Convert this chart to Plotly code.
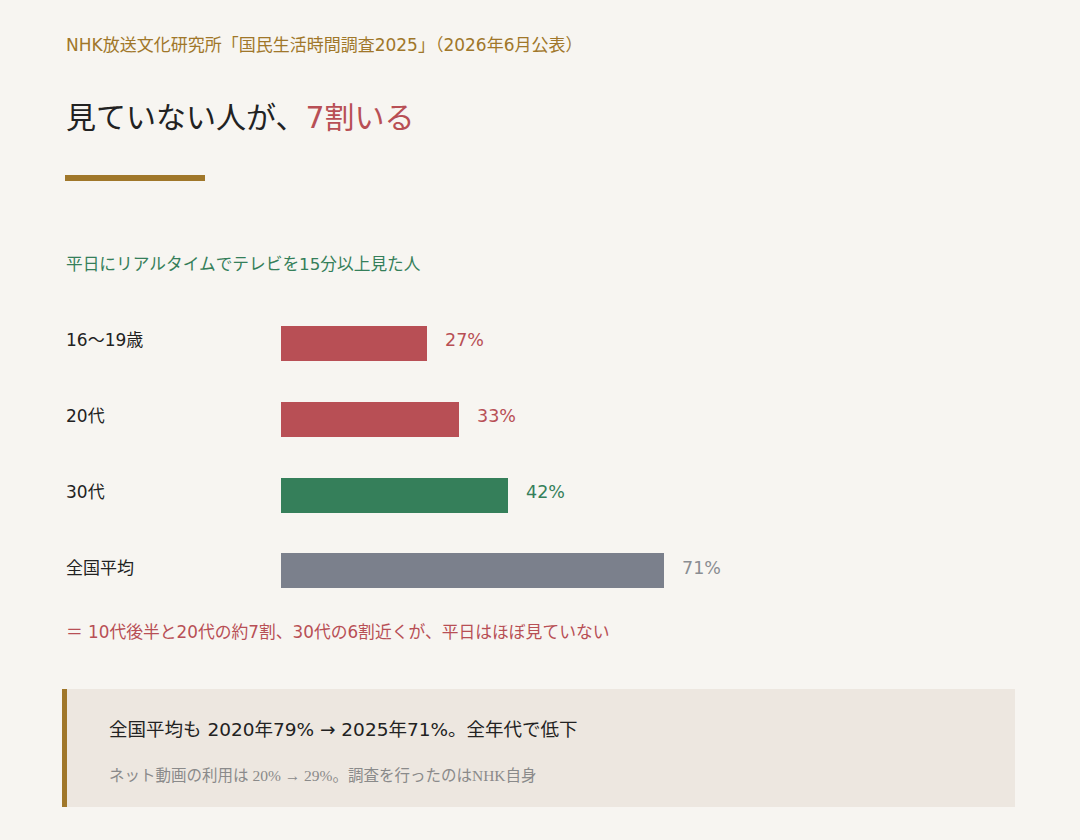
import plotly.graph_objects as go

categories = ["16〜19歳", "20代", "30代", "全国平均"]
values = [27, 33, 42, 71]
bar_colors = ["#B84F55", "#B84F55", "#357F5A", "#7B808C"]
label_colors = ["#B84F55", "#B84F55", "#357F5A", "#8A8D92"]
value_labels = [f"{v}%" for v in values]

source_text = "NHK放送文化研究所「国民生活時間調査2025」（2026年6月公表）"
title_main = "見ていない人が、"
title_accent = "7割いる"
subtitle = "平日にリアルタイムでテレビを15分以上見た人"
note_text = "＝ 10代後半と20代の約7割、30代の6割近くが、平日はほぼ見ていない"
box_line1 = "全国平均も 2020年79% → 2025年71%。全年代で低下"
box_line2 = "ネット動画の利用は 20% → 29%。調査を行ったのはNHK自身"

W, H = 1080, 840
BG = "#F7F5F1"
GOLD = "#A0772A"
SANS = "DejaVu Sans, Noto Sans CJK JP, sans-serif"
SERIF = "Liberation Serif, DejaVu Serif, Noto Sans CJK JP, serif"

def px_x(x):
    return x / W

def px_y(y):
    return 1 - y / H

fig = go.Figure()
fig.add_trace(go.Bar(
    x=values, y=categories, orientation="h",
    marker=dict(color=bar_colors, line=dict(width=0)),
    width=0.4625, hoverinfo="skip", showlegend=False,
))

# bar pixel geometry: x 281..821 for 0..100, centers 343.5..570.5
y_top_px = 343.5 - 75.67 / 2
y_bot_px = 570.5 + 75.67 / 2

fig.update_layout(
    width=W, height=H,
    margin=dict(l=0, r=0, t=0, b=0),
    paper_bgcolor=BG, plot_bgcolor="rgba(0,0,0,0)",
    xaxis=dict(domain=[px_x(281), px_x(821)], range=[0, 100], visible=False, fixedrange=True),
    yaxis=dict(domain=[px_y(y_bot_px), px_y(y_top_px)], range=[3.5, -0.5],
               visible=False, fixedrange=True, categoryorder="array", categoryarray=categories),
    font=dict(family=SANS),
    bargap=0,
)

shapes = [
    dict(type="rect", xref="paper", yref="paper", x0=px_x(65), x1=px_x(205),
         y0=px_y(181), y1=px_y(175), fillcolor=GOLD, line=dict(width=0), layer="below"),
    dict(type="rect", xref="paper", yref="paper", x0=px_x(62), x1=px_x(1015),
         y0=px_y(807), y1=px_y(689), fillcolor="#EDE7E0", line=dict(width=0), layer="below"),
    dict(type="rect", xref="paper", yref="paper", x0=px_x(62), x1=px_x(67),
         y0=px_y(807), y1=px_y(689), fillcolor=GOLD, line=dict(width=0), layer="below"),
]
fig.update_layout(shapes=shapes)

def txt(x, y, text, size, color, family=SANS):
    fig.add_annotation(x=px_x(x), y=px_y(y), xref="paper", yref="paper", text=text,
                       showarrow=False, xanchor="left", yanchor="middle",
                       font=dict(size=size, color=color, family=family))

txt(64, 45, source_text, 17, GOLD)
txt(64, 118, f"{title_main}<span style='color:#B84F55'>{title_accent}</span>", 30, "#222222")
txt(64, 264, subtitle, 16.7, "#357F5A")
txt(64, 632, note_text, 16.8, "#B84F55")
txt(107, 729, box_line1, 18.5, "#222222")
txt(107, 775, box_line2, 15.5, "#8A8A8A", SERIF)

for cat, v, lab, col in zip(categories, values, value_labels, label_colors):
    fig.add_annotation(x=px_x(64), y=cat, xref="paper", yref="y", text=cat,
                       showarrow=False, xanchor="left", yanchor="middle", yshift=3,
                       font=dict(size=17, color="#222222"))
    fig.add_annotation(x=v, y=cat, xref="x", yref="y", text=lab, xshift=16, yshift=3,
                       showarrow=False, xanchor="left", yanchor="middle",
                       font=dict(size=17.5, color=col))

fig.write_html("out.html", config={"displayModeBar": False},
               post_script="document.body.style.margin='0';document.body.style.background='#F7F5F1';")
